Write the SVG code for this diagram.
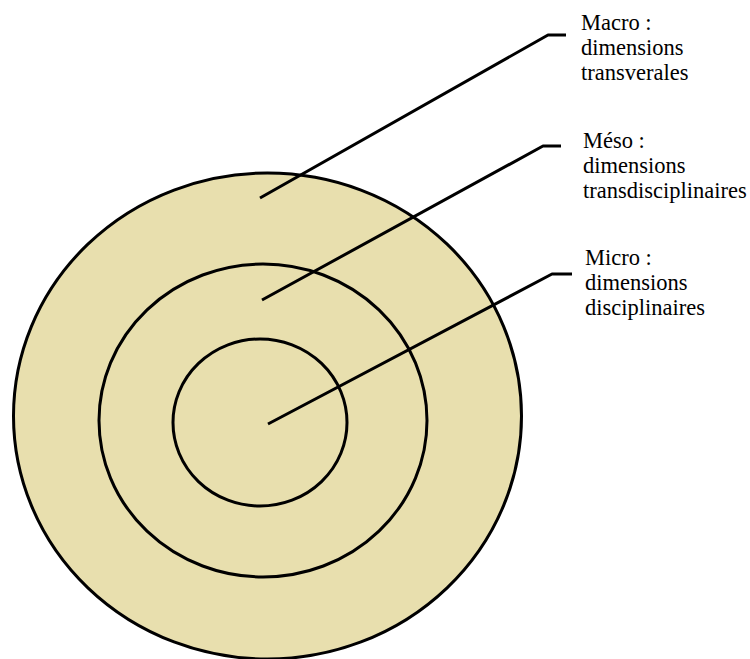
<svg xmlns="http://www.w3.org/2000/svg" width="750" height="659" viewBox="0 0 750 659">
<style>
.ring{fill:#e8dfae;stroke:#000;stroke-width:3}
.lead{fill:none;stroke:#000;stroke-width:3;stroke-linejoin:round}
</style>
<rect width="750" height="659" fill="#fff"/>
<g id="macro-ring"><ellipse class="ring" cx="267.5" cy="416" rx="254" ry="243"/></g>
<g id="meso-ring"><ellipse class="ring" cx="263" cy="420.5" rx="164" ry="156.5"/></g>
<g id="micro-ring"><ellipse class="ring" cx="260" cy="422.5" rx="87" ry="83.5"/></g>
<g id="connectors">
<polyline class="lead" points="260,198 548,35 566,35"/>
<polyline class="lead" points="262,300 543,146 561,146"/>
<polyline class="lead" points="268,424 552,274 572,274"/>
</g>
<g font-family="'Liberation Serif', 'DejaVu Serif', serif" font-size="22.5" fill="#000">
<g id="macro-label"><text x="581" y="30">Macro :</text><text x="581" y="55">dimensions</text><text x="581" y="80">transverales</text></g>
<g id="meso-label"><text x="583" y="148">Méso :</text><text x="583" y="173">dimensions</text><text x="583" y="198">transdisciplinaires</text></g>
<g id="micro-label"><text x="585" y="265">Micro :</text><text x="585" y="290">dimensions</text><text x="585" y="315">disciplinaires</text></g>
</g>
</svg>
